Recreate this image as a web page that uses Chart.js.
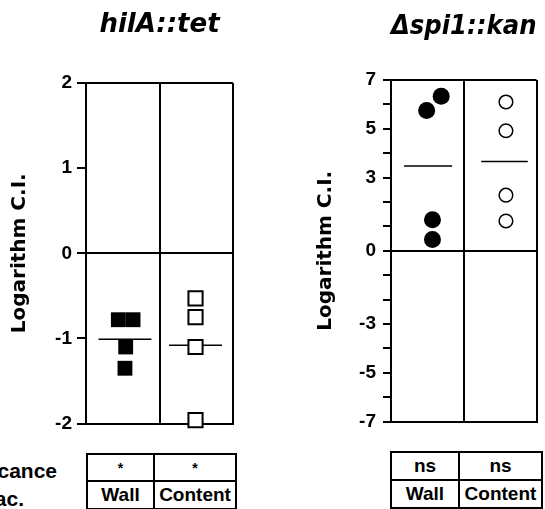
<!DOCTYPE html>
<html>
<head>
<meta charset="utf-8">
<script src="https://cdn.jsdelivr.net/npm/chart.js@4/dist/chart.umd.min.js"></script>
<style>
  body { margin: 0; background: #fff; }
  #page { position: relative; width: 545px; height: 509px; overflow: hidden; background: #fff; }
  canvas { position: absolute; top: 0; }
  .side { position: absolute; width: 257px; text-align: right; font: bold 21px "Liberation Sans", Arial, sans-serif; line-height: 24px; color: #000; }
  table.sig { position: absolute; border-collapse: collapse; font: bold 19px "Liberation Sans", Arial, sans-serif; color: #000; }
  table.sig td { border: 2px solid #000; text-align: center; padding: 0; }
</style>
</head>
<body>
<div id="page">
  <canvas id="chartHila" width="245" height="440" style="left:0"></canvas>
  <canvas id="chartSpi" width="255" height="440" style="left:290px"></canvas>
  <div class="side" style="left:-200px;top:459px">Significance</div>
  <div class="side" style="left:-233px;top:487px">Frac.</div>
  <table class="sig" id="tableHila" style="left:86px;top:453px;width:151px"></table>
  <table class="sig" id="tableSpi" style="left:390px;top:451px;width:153px"></table>
</div>
<script>
// categories et significativité
const categories = ['Wall', 'Content'];
const hilaSignif = ['*', '*'];
const spiSignif = ['ns', 'ns'];

// hilA::tet (log C.I.)
const hilaWallX = [0.44, 0.64, 0.54, 0.53];
const hilaWallY = [-0.78, -0.78, -1.10, -1.35];
const hilaContentX = [1.49, 1.49, 1.49, 1.49];
const hilaContentY = [-0.53, -0.75, -1.10, -1.96];
const hilaMeans = [-1.01, -1.08];
const hilaMeanSpan = [[0.17, 0.89], [1.13, 1.85]];
const hilaTicks = [2, 1, 0, -1, -2];

// Δspi1::kan (log C.I.)
const spiWallX = [0.69, 0.49, 0.57, 0.57];
const spiWallY = [6.33, 5.75, 1.27, 0.46];
const spiContentX = [1.58, 1.58, 1.58, 1.58];
const spiContentY = [6.10, 4.92, 2.28, 1.22];
const spiMeans = [3.48, 3.66];
const spiMeanSpan = [[0.18, 0.84], [1.24, 1.88]];
const spiTicks = [7, 5, 3, 0, -3, -5, -7];

function toPoints(xs, ys) {
    return xs.map((x, i) => ({ x: x, y: ys[i] }));
}

function meanDatasets(means, spans) {
    return means.map((m, i) => ({
        type: 'line',
        data: [{ x: spans[i][0], y: m }, { x: spans[i][1], y: m }],
        borderColor: '#000',
        borderWidth: 1.5,
        pointRadius: 0,
        showLine: true,
        order: 2
    }));
}

function makeChart(id, cfg) {
    const ctx = document.getElementById(id).getContext('2d');
    return new Chart(ctx, {
        type: 'scatter',
        data: {
            datasets: [
                {
                    data: toPoints(cfg.wallX, cfg.wallY),
                    pointStyle: cfg.style,
                    pointRadius: cfg.filledRadius,
                    backgroundColor: '#000',
                    borderColor: '#000',
                    borderWidth: 0,
                    clip: false,
                    order: 1
                },
                {
                    data: toPoints(cfg.contentX, cfg.contentY),
                    pointStyle: cfg.style,
                    pointRadius: cfg.openRadius,
                    backgroundColor: '#fff',
                    borderColor: '#000',
                    borderWidth: cfg.openBorder,
                    clip: false,
                    order: 1
                },
                ...meanDatasets(cfg.means, cfg.spans)
            ]
        },
        options: {
            responsive: false,
            animation: false,
            events: [],
            layout: { padding: cfg.padding },
            plugins: {
                legend: { display: false },
                tooltip: { enabled: false },
                title: {
                    display: true,
                    text: cfg.title,
                    fullSize: false,
                    color: '#000',
                    font: { family: 'DejaVu Sans', size: 26, weight: 'bold', style: 'italic', lineHeight: 1 },
                    padding: cfg.titlePadding
                }
            },
            scales: {
                x: {
                    type: 'linear',
                    min: 0,
                    max: 2,
                    ticks: { display: false, stepSize: 1 },
                    grid: { color: '#000', lineWidth: 2, drawTicks: false },
                    border: { display: true, color: '#000', width: 2 },
                    afterFit: s => { s.height = 0; }
                },
                y: {
                    min: cfg.min,
                    max: cfg.max,
                    afterFit: s => { s.width = cfg.axisWidth; },
                    ticks: {
                        stepSize: 1,
                        autoSkip: false,
                        color: '#000',
                        padding: cfg.tickPadding,
                        font: { family: 'Liberation Sans', size: 19, weight: 'bold' },
                        callback: v => cfg.labels.includes(v) ? String(v) : ''
                    },
                    grid: {
                        lineWidth: 2,
                        tickLength: cfg.tickLength,
                        tickColor: '#000',
                        color: c => (c.tick && [cfg.min, 0, cfg.max].includes(c.tick.value)) ? '#000' : 'rgba(0,0,0,0)'
                    },
                    border: { display: true, color: '#000', width: 2 },
                    title: {
                        display: true,
                        text: 'Logarithm C.I.',
                        color: '#000',
                        font: { family: 'DejaVu Sans', size: 20, weight: 'bold', lineHeight: 1.2 },
                        padding: { top: 8, bottom: 0 }
                    }
                }
            }
        }
    });
}

makeChart('chartHila', {
    title: 'hilA::tet',
    wallX: hilaWallX, wallY: hilaWallY,
    contentX: hilaContentX, contentY: hilaContentY,
    means: hilaMeans, spans: hilaMeanSpan,
    labels: hilaTicks, min: -2, max: 2,
    style: 'rect', filledRadius: 10.5, openRadius: 10, openBorder: 2,
    padding: { left: 0, right: 8, top: 0, bottom: 16 },
    titlePadding: { top: 12, bottom: 45 },
    axisWidth: 86, tickLength: 9, tickPadding: 5
});

makeChart('chartSpi', {
    title: 'Δspi1::kan',
    wallX: spiWallX, wallY: spiWallY,
    contentX: spiContentX, contentY: spiContentY,
    means: spiMeans, spans: spiMeanSpan,
    labels: spiTicks, min: -7, max: 7,
    style: 'circle', filledRadius: 8.5, openRadius: 6.8, openBorder: 1.5,
    padding: { left: 16, right: 7, top: 0, bottom: 16 },
    titlePadding: { top: 14, bottom: 40 },
    axisWidth: 85, tickLength: 8, tickPadding: 7
});

function fillTable(id, signif, heights) {
    const table = document.getElementById(id);
    [signif, categories].forEach((rowVals, r) => {
        const row = document.createElement('tr');
        row.style.height = heights[r] + 'px';
        rowVals.forEach((val, i) => {
            const cell = document.createElement('td');
            cell.textContent = val;
            if (r === 0 && val === '*') cell.style.fontSize = '14px';
            if (i === 0) cell.style.width = '45%';
            row.appendChild(cell);
        });
        table.appendChild(row);
    });
}

fillTable('tableHila', hilaSignif, [27, 28]);
fillTable('tableSpi', spiSignif, [28, 28]);
</script>
</body>
</html>
